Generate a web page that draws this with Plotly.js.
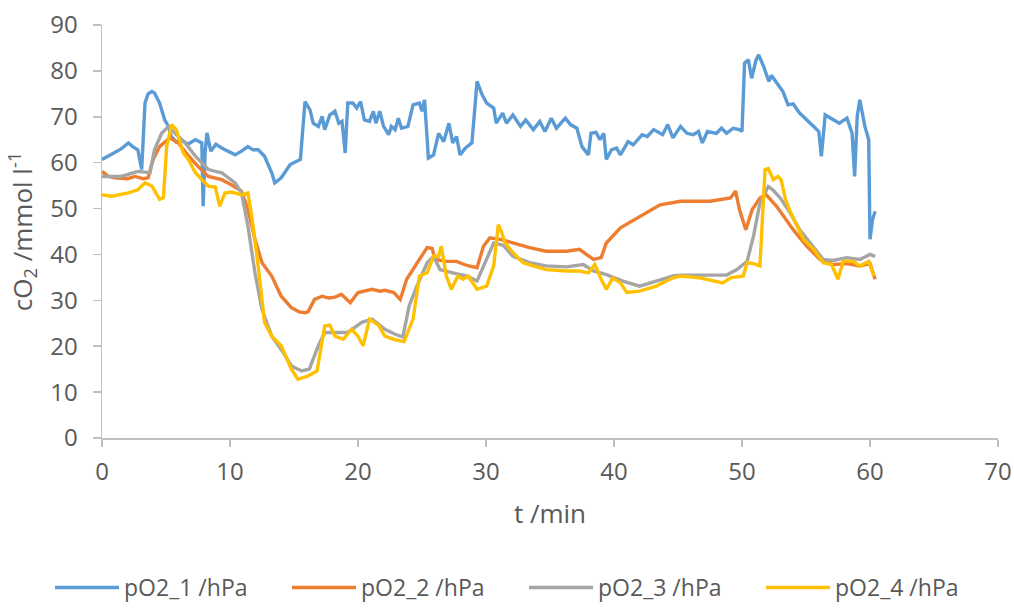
<!DOCTYPE html>
<html>
<head>
<meta charset="utf-8">
<script src="https://cdn.plot.ly/plotly-3.0.1.min.js"></script>
<style>
html,body{margin:0;padding:0;background:#fff;}
#chart{width:1014px;height:610px;}
</style>
</head>
<body>
<div id="chart"></div>
<script>
// ---- data ----
var seriesNames = ["pO2_1 /hPa", "pO2_2 /hPa", "pO2_3 /hPa", "pO2_4 /hPa"];

var t1 = [0,0.5,1.0,1.5,2.06,2.4,2.8,3.1,3.36,3.6,3.9,4.1,4.5,4.9,5.2,5.4,5.8,6.2,6.7,7.3,7.8,7.9,8.05,8.2,8.5,8.9,9.35,9.9,10.4,10.9,11.4,11.8,12.2,12.7,13.26,13.5,14.0,14.7,15.5,15.86,16.25,16.5,16.9,17.2,17.4,17.8,18.2,18.5,18.75,19.0,19.2,19.6,19.9,20.2,20.5,20.9,21.2,21.4,21.7,22.0,22.4,22.6,22.9,23.15,23.4,23.9,24.3,24.8,25.0,25.2,25.5,25.9,26.3,26.7,27.1,27.4,27.7,27.97,28.4,28.9,29.3,29.7,30.05,30.6,30.8,31.3,31.6,32.1,32.7,33.1,33.7,34.2,34.6,35.1,35.5,36.2,36.6,37.1,37.5,38.0,38.2,38.6,38.9,39.2,39.4,39.8,40.2,40.5,41.1,41.5,42.2,42.6,43.1,43.8,44.2,44.6,45.2,45.7,46.2,46.6,46.9,47.3,48.0,48.4,48.8,49.3,49.8,50.0,50.2,50.5,50.75,51.1,51.3,51.7,52.1,52.3,52.7,53.2,53.6,54.0,54.5,55.1,55.6,56.0,56.2,56.5,57.1,57.6,58.2,58.6,58.8,59.0,59.2,59.6,59.9,60.0,60.2,60.4];
var pO2_1 = [60.7,61.5,62.2,63.0,64.3,63.5,62.8,58.5,73.0,75.0,75.5,75.2,73.0,69.3,67.9,65.7,64.5,65.0,64.0,65.0,64.3,50.5,62.0,66.5,62.5,64.0,63.2,62.5,61.7,62.5,63.5,62.8,62.8,61.4,57.8,55.6,56.7,59.6,60.7,73.3,71.5,68.6,67.9,70.1,67.2,70.4,71.2,68.6,69.0,62.1,73.0,73.0,71.9,73.3,69.3,69.0,71.2,68.6,71.2,67.9,66.1,67.9,67.2,69.7,67.5,67.9,72.6,73.0,71.2,73.7,61.0,61.7,66.4,64.6,68.6,64.3,65.7,61.7,63.2,64.3,77.7,74.8,73.0,71.9,68.6,70.8,68.6,70.4,67.9,69.3,67.2,69.0,66.8,69.7,67.5,69.7,68.3,67.5,63.5,61.7,66.4,66.6,65.0,66.4,60.7,62.8,63.2,61.7,64.6,63.9,66.1,65.7,67.2,66.1,68.3,65.4,67.9,66.4,66.1,66.8,64.3,66.8,66.4,67.5,66.4,67.5,67.2,66.8,81.7,82.4,78.4,82.4,83.5,80.9,77.7,79.0,77.3,75.5,72.6,72.8,70.8,69.3,67.9,66.8,61.4,70.4,69.3,68.6,69.7,66.4,57.0,70.1,73.7,67.9,65.0,43.3,47.6,49.4];

var t2 = [0,0.5,1.0,2.0,2.58,3.2,3.6,4.0,4.5,5.3,5.96,6.7,7.5,8.3,9.35,10.1,10.9,11.4,11.95,12.5,13.26,14.0,14.8,15.4,15.86,16.1,16.6,17.2,17.7,18.2,18.7,19.4,20.0,21.1,21.7,22.1,22.8,23.3,23.8,24.6,25.4,25.8,26.0,26.9,27.7,28.5,29.3,29.8,30.3,31.1,32.1,33.4,34.7,36.3,37.3,38.4,39.0,39.4,40.5,42.0,43.6,45.2,47.5,49.1,49.5,49.8,50.3,50.8,51.4,51.9,52.7,54.0,55.05,56.1,57.1,58.2,59.2,60.0,60.4];
var pO2_2 = [58.1,57.0,56.7,56.5,57.0,56.5,56.7,60.7,63.5,65.4,64.3,61.7,59.2,57.0,56.3,55.2,53.8,49.8,43.3,38.2,35.3,30.9,28.4,27.5,27.3,27.5,30.2,30.9,30.5,30.7,31.3,29.5,31.7,32.4,32.0,32.2,31.7,30.2,34.6,38.2,41.5,41.3,38.9,38.5,38.5,37.6,37.1,41.8,43.6,43.3,42.5,41.5,40.7,40.7,41.1,38.9,39.3,42.5,45.8,48.3,50.8,51.6,51.6,52.3,53.8,49.8,45.4,49.8,52.3,53.0,50.5,45.4,41.8,38.9,37.8,38.0,37.5,38.0,34.6];

var t3 = [0,1.5,2.8,3.75,4.1,4.66,5.2,5.7,6.5,7.3,8.3,9.35,10.4,10.9,11.4,11.95,12.5,13.26,14.0,14.8,15.6,16.2,16.9,17.4,18.5,19.2,20.3,21.1,22.1,22.9,23.5,24.0,24.6,25.4,25.9,26.4,27.4,28.5,29.3,29.8,30.6,31.35,32.1,33.4,34.7,36.3,37.6,38.4,39.4,40.7,42.0,43.3,44.6,45.2,47.5,48.8,49.6,50.4,50.9,51.4,52.05,52.4,53.0,53.75,54.5,55.3,56.35,57.1,58.2,59.2,60.0,60.4];
var pO2_3 = [57.0,57.0,58.1,57.8,62.8,66.4,67.9,66.4,64.3,61.4,58.5,57.8,55.6,53.4,46.2,36.0,28.0,22.2,19.3,15.7,14.6,15.0,20.1,23.0,23.0,23.0,25.2,25.9,23.7,22.6,22.0,28.8,33.1,38.2,39.6,36.7,36.0,35.3,34.2,37.5,42.5,42.0,39.6,38.2,37.5,37.3,37.8,36.4,35.6,34.2,33.1,34.2,35.3,35.5,35.5,35.5,36.7,38.5,44.0,51.2,54.8,54.1,52.3,49.1,45.4,42.5,38.9,38.7,39.3,38.9,40.0,39.6];

var t4 = [0,0.76,2.06,2.8,3.36,3.9,4.5,4.8,5.05,5.45,5.8,6.35,6.75,7.3,7.8,8.3,8.85,9.2,9.6,10.1,10.9,11.4,11.7,12.2,12.7,13.26,14.0,14.8,15.3,16.1,16.8,17.4,17.8,18.2,18.85,19.5,20.0,20.4,20.9,21.6,22.1,22.8,23.6,24.3,24.8,25.4,25.9,26.3,26.5,26.9,27.3,27.8,28.2,28.6,29.3,30.05,30.6,30.96,31.2,31.5,32.1,32.9,33.7,34.7,36.3,37.3,38.0,38.5,39.0,39.4,39.9,40.5,41.0,42.0,43.3,44.6,45.2,46.7,48.5,49.1,50.1,50.4,50.9,51.4,51.8,52.05,52.45,52.8,53.05,53.4,53.75,54.3,54.8,55.6,56.35,57.0,57.5,57.9,58.7,59.2,59.9,60.3];
var pO2_4 = [53.0,52.7,53.4,54.1,55.6,54.9,52.0,52.4,63.5,68.3,67.2,62.1,60.7,57.8,56.3,54.9,54.7,50.5,53.4,53.6,53.0,53.4,48.3,37.5,25.2,22.2,20.1,15.0,12.8,13.5,14.6,24.4,24.6,22.2,21.5,23.7,22.2,20.1,25.9,24.6,22.2,21.5,21.0,25.9,35.3,36.0,39.6,39.6,41.8,35.3,32.4,35.3,34.6,35.3,32.4,33.1,37.5,46.5,45.0,42.5,40.4,38.2,37.5,36.7,36.4,36.4,36.0,37.8,34.6,32.4,34.9,33.8,31.7,32.0,33.1,34.9,35.3,34.9,33.8,34.9,35.3,38.2,38.0,37.5,58.5,58.7,56.3,57.0,56.3,52.0,49.4,46.2,43.3,41.1,38.2,37.8,34.6,38.5,38.5,37.5,38.5,35.3];

var xTicks = [0,10,20,30,40,50,60,70];
var yTicks = [0,10,20,30,40,50,60,70,80,90];
var xTitle = "t /min";
var yTitle = "cO<sub>2</sub> /mmol l<sup>-1</sup>";

// ---- styling ----
var colors = ["#5B9BD5", "#ED7D31", "#A5A5A5", "#FFC000"];
var FONT = "'Open Sans', Lato, sans-serif";
var textGrey = "#595959";
var axisGrey = "#BFBFBF";

var xs = [t1, t2, t3, t4];
var ys = [pO2_1, pO2_2, pO2_3, pO2_4];
var traces = ys.map(function (y, i) {
  return {
    x: xs[i], y: y, name: seriesNames[i], type: "scatter", mode: "lines",
    line: {color: colors[i], width: 3.4, shape: "linear"},
    hoverinfo: "skip"
  };
});

var layout = {
  width: 1014, height: 610,
  margin: {l: 102, r: 16, t: 25, b: 172, pad: 0, autoexpand: false},
  paper_bgcolor: "#ffffff", plot_bgcolor: "#ffffff",
  font: {family: FONT, color: textGrey, size: 23},
  showlegend: true,
  legend: {
    orientation: "h", x: -0.058, xanchor: "left", y: -0.414, yanchor: "bottom",
    entrywidth: 158, entrywidthmode: "pixels", itemwidth: 64,
    font: {family: FONT, size: 23, color: textGrey}, bgcolor: "rgba(0,0,0,0)"
  },
  xaxis: {
    range: [0, 70], tickvals: xTicks, ticktext: xTicks.map(String),
    showgrid: false, zeroline: false, showline: true, linecolor: axisGrey, linewidth: 1.5,
    ticks: "outside", ticklen: 7, tickcolor: axisGrey, tickwidth: 1.5,
    tickfont: {family: FONT, size: 24, color: textGrey},
    ticklabelstandoff: 5,
    title: {text: xTitle, font: {family: FONT, size: 26, color: textGrey}, standoff: 18}
  },
  yaxis: {
    range: [0, 90], tickvals: yTicks, ticktext: yTicks.map(String),
    showgrid: false, zeroline: false, showline: true, linecolor: axisGrey, linewidth: 1.5,
    ticks: "outside", ticklen: 8, tickcolor: axisGrey, tickwidth: 1.5,
    tickfont: {family: FONT, size: 24, color: textGrey},
    ticklabelstandoff: 10,
    title: {text: yTitle, font: {family: FONT, size: 26, color: textGrey}, standoff: 10}
  }
};

Plotly.newPlot("chart", traces, layout, {displayModeBar: false, staticPlot: true});
</script>
</body>
</html>
